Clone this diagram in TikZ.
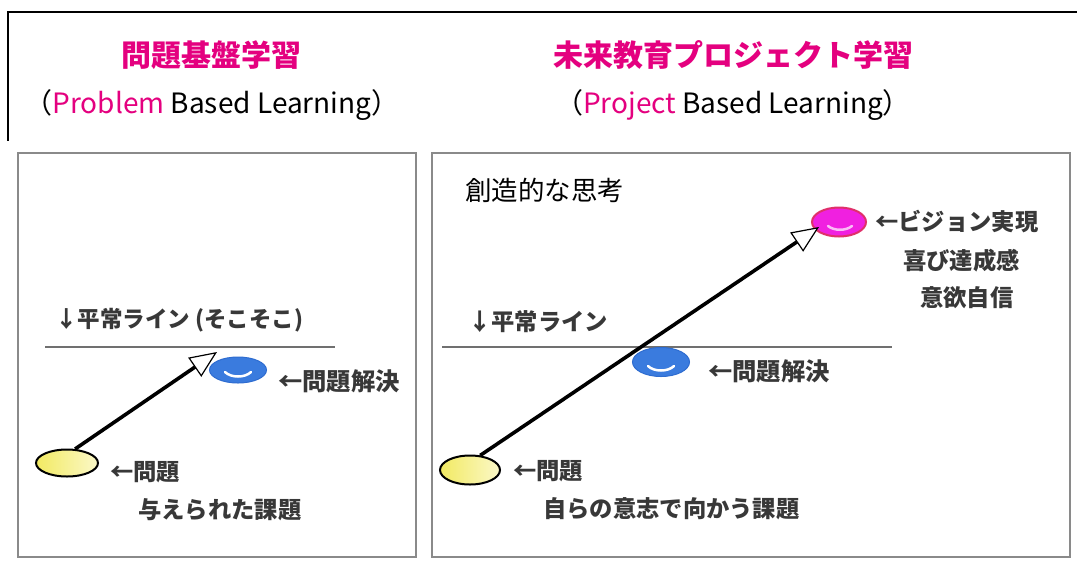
\documentclass[tikz,border=0pt]{standalone}
\usepackage{fontspec}
\setmainfont{Noto Sans CJK JP}
\usetikzlibrary{arrows.meta,shapes.geometric}
\definecolor{mag}{HTML}{E4007F}
\definecolor{lblgray}{HTML}{383838}
\definecolor{panelgray}{HTML}{8A8A8A}
\definecolor{rulegray}{HTML}{707070}
\definecolor{yelfill}{HTML}{F2EA62}
\definecolor{yellight}{HTML}{FBF8C8}
\definecolor{blufill}{HTML}{3A7BDE}
\definecolor{bluedge}{HTML}{2E6CD0}
\definecolor{pinkfill}{HTML}{F020E0}
\definecolor{pinkedge}{HTML}{E0306A}
\begin{document}
\begin{tikzpicture}[x=1pt,y=-1pt,
  title/.style={font=\fontsize{30}{32}\selectfont\bfseries, text=mag, inner sep=0},
  sub/.style={font=\fontsize{28}{30}\selectfont, text=black, inner sep=0},
  lbl/.style={anchor=west, font=\fontsize{23.3}{25}\selectfont\bfseries, text=lblgray, inner sep=0},
  panel/.style={draw=panelgray, line width=2pt},
  rulel/.style={draw=rulegray, line width=1.5pt},
  yel/.style={ellipse, draw=black, line width=2pt, left color=yelfill, right color=yellight, minimum width=62pt, minimum height=27pt, inner sep=0},
  blu/.style={ellipse, draw=bluedge, line width=1pt, fill=blufill, minimum width=57pt, minimum height=26pt, inner sep=0},
  pnk/.style={ellipse, draw=pinkedge, line width=2pt, fill=pinkfill, minimum width=54pt, minimum height=29pt, inner sep=0},
  hl/.style={draw=white, line width=2.5pt, line cap=round},
  arr/.style={draw=black, line width=3.6pt, -{Triangle[length=27pt, width=23pt, fill=white, line width=1.2pt]}}
]
\useasboundingbox (0,0) rectangle (1077,563);
\fill[white] (0,0) rectangle (1077,563);
% outer frame
\draw[black, line width=1.5pt] (1077,12) -- (8,12) -- (8,141);
% titles
\node[title] (t1) at (211,55) {問題基盤学習};
\node[sub] (s1) at (212,105) {（\textcolor{mag}{Problem} Based Learning）};
\node[title] (t2) at (733,55) {未来教育プロジェクト学習};
\node[sub] (s2) at (733,105) {（\textcolor{mag}{Project} Based Learning）};
% panels
\draw[panel] (18,153) rectangle (416,557);
\draw[panel] (432,153) rectangle (1070,557);

% ---- left panel ----
\node[lbl, font=\fontsize{22.5}{25}\selectfont\bfseries] (la) at (55,320) {↓平常ライン (そこそこ)};
\draw[rulel] (45,347) -- (335,347);
\node[blu] (ba) at (238,370) {};
\draw[hl] (225,372) .. controls (231,378) and (245,378) .. (251,372);
\node[yel] (ya) at (67,463) {};
\coordinate (tipA) at (217,352);
\draw[arr] (ya.60) -- (tipA);
\node[lbl, font=\fontsize{24.3}{26}\selectfont\bfseries] (lb) at (278,381) {←問題解決};
\node[lbl] (lc) at (110,472) {←問題};
\node[lbl] (ld) at (138,510) {与えられた課題};

% ---- right panel ----
\node[anchor=west, font=\fontsize{26.5}{28}\selectfont, inner sep=0] (ra) at (465,190) {創造的な思考};
\node[pnk] (pb) at (839,222) {};
\draw[draw=white!70!pinkfill, line width=2.5pt, line cap=round] (828,226) .. controls (834,231) and (846,231) .. (852,226);
\node[lbl] (rb) at (875,222) {←ビジョン実現};
\node[lbl] (rc) at (903,261) {喜び達成感};
\node[lbl] (rd) at (920,298) {意欲自信};
\node[lbl] (re) at (468,322) {↓平常ライン};
\draw[rulel] (442,347) -- (892,347);
\node[blu, minimum height=29pt] (bb) at (661,362) {};
\draw[hl] (648,366) .. controls (654,372) and (668,372) .. (674,366);
\node[lbl, font=\fontsize{24.3}{26}\selectfont\bfseries] (rf) at (708,371) {←問題解決};
\node[yel, minimum width=60pt, minimum height=29pt] (yb) at (470,470) {};
\coordinate (tipB) at (819,227);
\draw[arr] (yb.55) -- (tipB);
\node[lbl] (rg) at (513,471) {←問題};
\node[lbl] (rh) at (543,509) {自らの意志で向かう課題};
\end{tikzpicture}
\end{document}
